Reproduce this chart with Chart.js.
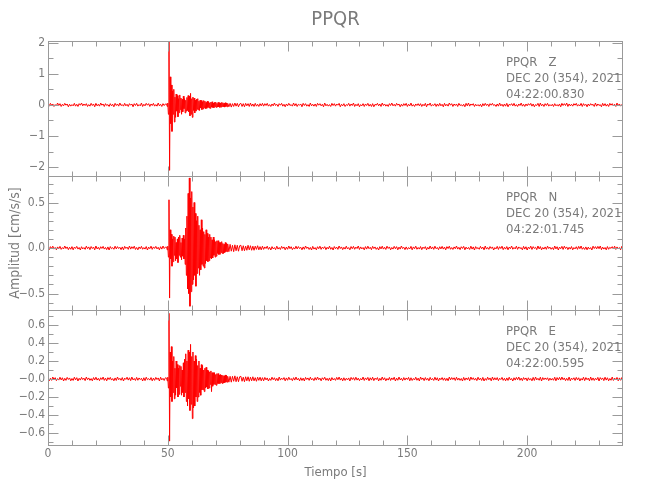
<!DOCTYPE html>
<html>
<head>
<meta charset="utf-8">
<script src="https://cdn.jsdelivr.net/npm/chart.js@4.4.1/dist/chart.umd.min.js"></script>
<style>html,body{margin:0;padding:0;background:#fff}canvas{display:block}</style>
</head>
<body>
<canvas id="c" width="650" height="500"></canvas>
<script>
// ---------------- DATA ----------------
const titulo = 'PPQR';
const componentes = ['Z', 'N', 'E'];
const fecha = 'DEC 20 (354), 2021';
const horas = ['04:22:00.830', '04:22:01.745', '04:22:00.595'];

// sample times [s]
const tPre = [
0,0.5,1,1.5,2,2.5,3,3.5,4,4.5,5,5.5,6,6.5,7,7.5,8,8.5,9,9.5,
10,10.5,11,11.5,12,12.5,13,13.5,14,14.5,15,15.5,16,16.5,17,17.5,18,18.5,19,19.5,
20,20.5,21,21.5,22,22.5,23,23.5,24,24.5,25,25.5,26,26.5,27,27.5,28,28.5,29,29.5,
30,30.5,31,31.5,32,32.5,33,33.5,34,34.5,35,35.5,36,36.5,37,37.5,38,38.5,39,39.5,
40,40.5,41,41.5,42,42.5,43,43.5,44,44.5,45,45.5,46,46.5,47,47.5,48,48.5,49];
const tEvtA = [
49.5,49.75,50,50.25,50.5,50.75,51,51.25,51.5,51.75,
52,52.25,52.5,52.75,53,53.25,53.5,53.75,54,54.25,
54.5,54.75,55,55.25,55.5,55.75,56,56.25,56.5,56.75,
57,57.25,57.5,57.75,58,58.25,58.5,58.75,59,59.25,
59.5,59.75,60,60.25,60.5,60.75,61,61.25,61.5,61.75,
62,62.25,62.5,62.75,63,63.25,63.5,63.75,64,64.25,
64.5,64.75,65,65.25,65.5,65.75,66,66.25,66.5,66.75,
67,67.25,67.5,67.75,68,68.25,68.5,68.75,69,69.25,
69.5,69.75,70,70.25,70.5,70.75,71,71.25,71.5,71.75,
72,72.25,72.5,72.75,73,73.25,73.5,73.75,74,74.25,
74.5,74.75,75];
const tEvtB = [75.5,76,76.5,77,77.5,78,78.5,79,79.5,80,80.5,81,81.5,82,82.5,83,83.5,84,84.5,85,85.5,86,86.5,87,87.5,88,88.5,89,89.5,90];
const tTail = [
90.5,91,91.5,92,92.5,93,93.5,94,94.5,95,95.5,96,96.5,97,97.5,98,98.5,99,99.5,100,
100.5,101,101.5,102,102.5,103,103.5,104,104.5,105,105.5,106,106.5,107,107.5,108,108.5,109,109.5,110,
110.5,111,111.5,112,112.5,113,113.5,114,114.5,115,115.5,116,116.5,117,117.5,118,118.5,119,119.5,120,
120.5,121,121.5,122,122.5,123,123.5,124,124.5,125,125.5,126,126.5,127,127.5,128,128.5,129,129.5,130,
130.5,131,131.5,132,132.5,133,133.5,134,134.5,135,135.5,136,136.5,137,137.5,138,138.5,139,139.5,140,
140.5,141,141.5,142,142.5,143,143.5,144,144.5,145,145.5,146,146.5,147,147.5,148,148.5,149,149.5,150,
150.5,151,151.5,152,152.5,153,153.5,154,154.5,155,155.5,156,156.5,157,157.5,158,158.5,159,159.5,160,
160.5,161,161.5,162,162.5,163,163.5,164,164.5,165,165.5,166,166.5,167,167.5,168,168.5,169,169.5,170,
170.5,171,171.5,172,172.5,173,173.5,174,174.5,175,175.5,176,176.5,177,177.5,178,178.5,179,179.5,180,
180.5,181,181.5,182,182.5,183,183.5,184,184.5,185,185.5,186,186.5,187,187.5,188,188.5,189,189.5,190,
190.5,191,191.5,192,192.5,193,193.5,194,194.5,195,195.5,196,196.5,197,197.5,198,198.5,199,199.5,200,
200.5,201,201.5,202,202.5,203,203.5,204,204.5,205,205.5,206,206.5,207,207.5,208,208.5,209,209.5,210,
210.5,211,211.5,212,212.5,213,213.5,214,214.5,215,215.5,216,216.5,217,217.5,218,218.5,219,219.5,220,
220.5,221,221.5,222,222.5,223,223.5,224,224.5,225,225.5,226,226.5,227,227.5,228,228.5,229,229.5,230,
230.5,231,231.5,232,232.5,233,233.5,234,234.5,235,235.5,236,236.5,237,237.5,238,238.5,239,239.5,240];

// Z component [cm/s/s]
const zPre = [
0.02,-0.04,0.05,-0.01,0.03,-0.05,0.01,-0.03,0.06,-0.02,
0.04,-0.05,0.02,-0.03,0.05,-0.01,0.03,-0.06,0.02,-0.04,
0.01,-0.03,0.05,-0.04,0.02,-0.05,0.04,-0.01,0.06,-0.03,
0.03,-0.02,0.04,-0.05,0.01,-0.04,0.05,-0.02,0.03,-0.06,
0.05,-0.03,0.02,-0.04,0.06,-0.01,0.03,-0.05,0.04,-0.02,
0.01,-0.05,0.04,-0.03,0.02,-0.06,0.05,-0.02,0.03,-0.04,
0.06,-0.02,0.01,-0.04,0.05,-0.03,0.02,-0.05,0.04,-0.01,
0.03,-0.06,0.04,-0.02,0.05,-0.04,0.01,-0.03,0.06,-0.05,
0.02,-0.03,0.05,-0.01,0.04,-0.05,0.03,-0.02,0.05,-0.04,
0.01,-0.04,0.06,-0.03,0.02,-0.05,0.04,-0.02,0.03];
const zEvtA = [
0.03,-0.05,0.06,-0.3,2.05,-2.1,0.9,-0.6,0.64,-0.85,
0.45,-0.3,0.5,-0.55,0.25,-0.4,0.35,-0.2,0.3,-0.38,
0.2,-0.25,0.32,-0.15,0.22,-0.3,0.18,-0.22,0.28,-0.12,
0.2,-0.26,0.15,-0.2,0.24,-0.18,0.3,-0.22,0.28,-0.35,
0.37,-0.3,0.2,-0.4,0.25,-0.18,0.22,-0.26,0.15,-0.2,
0.18,-0.14,0.2,-0.16,0.12,-0.18,0.15,-0.1,0.14,-0.15,
0.1,-0.13,0.14,-0.09,0.12,-0.12,0.08,-0.11,0.12,-0.08,
0.1,-0.1,0.07,-0.11,0.09,-0.07,0.1,-0.08,0.06,-0.09,
0.08,-0.06,0.09,-0.08,0.05,-0.07,0.08,-0.06,0.07,-0.08,
0.06,-0.07,0.08,-0.05,0.07,-0.06,0.05,-0.07,0.07,-0.05,
0.06,-0.06,0.05];
const zEvtB = [
-0.06,0.05,-0.07,0.04,-0.05,0.06,-0.04,0.05,-0.06,0.03,
0.05,-0.05,0.04,-0.06,0.05,-0.03,0.04,-0.05,0.06,-0.04,
0.03,-0.05,0.05,-0.04,0.02,-0.05,0.04,-0.03,0.05,-0.04];
const zTail = [
0.04,-0.02,0.05,-0.04,0.01,-0.05,0.03,-0.03,0.06,-0.02,
0.02,-0.05,0.04,-0.01,0.05,-0.04,0.02,-0.06,0.03,-0.03,
0.05,-0.02,0.01,-0.04,0.06,-0.03,0.04,-0.05,0.02,-0.01,
0.03,-0.06,0.05,-0.02,0.04,-0.04,0.01,-0.05,0.06,-0.03,
0.02,-0.04,0.03,-0.05,0.05,-0.01,0.04,-0.03,0.02,-0.06,
0.06,-0.03,0.02,-0.04,0.01,-0.05,0.05,-0.02,0.04,-0.04,
0.03,-0.01,0.05,-0.06,0.02,-0.03,0.04,-0.05,0.01,-0.02,
0.05,-0.04,0.03,-0.02,0.06,-0.05,0.02,-0.03,0.04,-0.06,
0.01,-0.03,0.04,-0.05,0.03,-0.02,0.05,-0.04,0.02,-0.05,
0.04,-0.06,0.02,-0.01,0.05,-0.03,0.03,-0.05,0.06,-0.02,
0.03,-0.04,0.01,-0.05,0.04,-0.02,0.06,-0.03,0.02,-0.04,
0.05,-0.01,0.03,-0.06,0.02,-0.04,0.04,-0.02,0.05,-0.05,
0.02,-0.03,0.06,-0.04,0.01,-0.05,0.03,-0.02,0.04,-0.03,
0.04,-0.05,0.02,-0.03,0.05,-0.06,0.03,-0.01,0.06,-0.04,
0.01,-0.02,0.04,-0.05,0.03,-0.04,0.05,-0.03,0.02,-0.06,
0.05,-0.03,0.02,-0.04,0.06,-0.01,0.04,-0.05,0.03,-0.02,
0.03,-0.05,0.05,-0.02,0.01,-0.04,0.02,-0.06,0.05,-0.03,
0.06,-0.04,0.03,-0.01,0.04,-0.05,0.02,-0.03,0.01,-0.04,
0.02,-0.06,0.04,-0.03,0.05,-0.02,0.03,-0.05,0.04,-0.01,
0.05,-0.02,0.01,-0.05,0.03,-0.04,0.06,-0.03,0.02,-0.05,
0.03,-0.04,0.05,-0.06,0.02,-0.01,0.04,-0.03,0.05,-0.04,
0.01,-0.05,0.03,-0.02,0.06,-0.04,0.02,-0.05,0.03,-0.03,
0.04,-0.01,0.05,-0.04,0.03,-0.06,0.01,-0.02,0.05,-0.05,
0.06,-0.03,0.02,-0.05,0.04,-0.02,0.05,-0.04,0.01,-0.03,
0.02,-0.05,0.04,-0.03,0.01,-0.04,0.03,-0.06,0.05,-0.02,
0.04,-0.02,0.06,-0.05,0.03,-0.03,0.02,-0.04,0.04,-0.01,
0.05,-0.04,0.01,-0.03,0.05,-0.05,0.04,-0.02,0.02,-0.06,
0.03,-0.03,0.04,-0.01,0.02,-0.05,0.06,-0.04,0.03,-0.02,
0.01,-0.06,0.05,-0.03,0.04,-0.04,0.02,-0.05,0.05,-0.01,
0.04,-0.03,0.02,-0.05,0.06,-0.02,0.03,-0.04,0.01,-0.05];

// N component
const nPre = [
0.01,-0.018,0.015,-0.005,0.02,-0.012,0.006,-0.02,0.012,-0.008,
0.018,-0.015,0.005,-0.01,0.022,-0.006,0.012,-0.018,0.008,-0.014,
0.015,-0.02,0.01,-0.005,0.018,-0.012,0.006,-0.022,0.014,-0.01,
0.005,-0.015,0.02,-0.008,0.012,-0.018,0.016,-0.006,0.01,-0.02,
0.022,-0.01,0.008,-0.016,0.014,-0.005,0.018,-0.012,0.006,-0.018,
0.012,-0.022,0.016,-0.008,0.005,-0.014,0.02,-0.01,0.015,-0.006,
0.008,-0.018,0.012,-0.02,0.018,-0.005,0.01,-0.015,0.022,-0.012,
0.014,-0.006,0.02,-0.016,0.006,-0.02,0.012,-0.008,0.018,-0.014,
0.005,-0.012,0.016,-0.022,0.01,-0.008,0.02,-0.015,0.012,-0.005,
0.018,-0.01,0.008,-0.02,0.014,-0.012,0.022,-0.006,0.01];
const nEvtA = [
0.01,-0.02,0.02,-0.1,0.53,-0.55,0.2,-0.12,0.15,-0.2,
0.1,-0.15,0.13,-0.08,0.12,-0.14,0.06,-0.12,0.1,-0.16,
0.12,-0.08,0.14,-0.1,0.06,-0.13,0.11,-0.09,0.14,-0.12,
0.1,-0.18,0.22,-0.3,0.35,-0.45,0.6,-0.5,0.77,-0.64,
0.55,-0.48,0.62,-0.4,0.45,-0.35,0.5,-0.3,0.38,-0.42,
0.3,-0.28,0.35,-0.22,0.25,-0.3,0.2,-0.24,0.31,-0.18,
0.22,-0.2,0.18,-0.22,0.15,-0.17,0.2,-0.14,0.16,-0.15,
0.12,-0.14,0.15,-0.11,0.12,-0.12,0.09,-0.11,0.12,-0.08,
0.09,-0.1,0.07,-0.09,0.08,-0.06,0.08,-0.07,0.06,-0.07,
0.06,-0.05,0.07,-0.06,0.05,-0.06,0.04,-0.05,0.06,-0.04,
0.05,-0.04,0.045];
const nEvtB = [
-0.04,0.04,-0.035,0.03,-0.04,0.035,-0.03,0.03,-0.035,0.025,
0.03,-0.03,0.025,-0.03,0.02,-0.025,0.03,-0.02,0.025,-0.025,
0.02,-0.025,0.02,-0.015,0.025,-0.02,0.015,-0.02,0.02,-0.015];
const nTail = [
0.012,-0.006,0.02,-0.015,0.008,-0.022,0.015,-0.01,0.005,-0.018,
0.02,-0.012,0.006,-0.016,0.018,-0.005,0.012,-0.02,0.01,-0.014,
0.022,-0.008,0.014,-0.018,0.005,-0.012,0.02,-0.01,0.016,-0.006,
0.008,-0.02,0.012,-0.014,0.022,-0.005,0.01,-0.016,0.006,-0.022,
0.018,-0.012,0.005,-0.02,0.014,-0.008,0.02,-0.015,0.01,-0.006,
0.015,-0.018,0.008,-0.01,0.02,-0.014,0.006,-0.022,0.016,-0.008,
0.01,-0.015,0.022,-0.006,0.012,-0.018,0.008,-0.012,0.02,-0.01,
0.005,-0.02,0.016,-0.008,0.018,-0.014,0.01,-0.006,0.022,-0.016,
0.012,-0.01,0.006,-0.02,0.015,-0.012,0.02,-0.008,0.008,-0.018,
0.018,-0.006,0.012,-0.015,0.005,-0.022,0.015,-0.01,0.02,-0.012,
0.008,-0.016,0.02,-0.005,0.012,-0.02,0.006,-0.012,0.018,-0.008,
0.015,-0.02,0.01,-0.012,0.022,-0.006,0.008,-0.018,0.012,-0.015,
0.005,-0.01,0.018,-0.02,0.012,-0.008,0.02,-0.014,0.006,-0.012,
0.016,-0.018,0.01,-0.006,0.015,-0.02,0.008,-0.012,0.022,-0.01,
0.012,-0.015,0.02,-0.008,0.006,-0.018,0.014,-0.01,0.018,-0.012,
0.01,-0.02,0.015,-0.006,0.02,-0.014,0.005,-0.016,0.012,-0.008,
0.022,-0.012,0.008,-0.018,0.014,-0.005,0.018,-0.02,0.01,-0.01,
0.006,-0.016,0.02,-0.012,0.012,-0.022,0.015,-0.008,0.005,-0.014,
0.018,-0.008,0.01,-0.02,0.022,-0.012,0.006,-0.015,0.016,-0.005,
0.012,-0.022,0.005,-0.01,0.018,-0.016,0.014,-0.006,0.02,-0.018,
0.008,-0.012,0.016,-0.02,0.01,-0.008,0.022,-0.014,0.006,-0.01,
0.02,-0.015,0.012,-0.006,0.005,-0.02,0.018,-0.012,0.014,-0.022,
0.01,-0.008,0.02,-0.016,0.015,-0.005,0.008,-0.018,0.022,-0.01,
0.016,-0.02,0.006,-0.012,0.012,-0.015,0.02,-0.006,0.01,-0.014,
0.005,-0.018,0.022,-0.01,0.014,-0.022,0.01,-0.008,0.018,-0.016,
0.02,-0.006,0.012,-0.018,0.008,-0.012,0.016,-0.02,0.005,-0.01,
0.014,-0.015,0.018,-0.008,0.022,-0.014,0.006,-0.016,0.012,-0.02,
0.01,-0.012,0.005,-0.022,0.02,-0.006,0.015,-0.01,0.018,-0.008,
0.022,-0.018,0.01,-0.012,0.006,-0.02,0.016,-0.014,0.008,-0.005,
0.015,-0.01,0.02,-0.016,0.012,-0.008,0.005,-0.02,0.018,-0.012];

// E component
const ePre = [
0.012,-0.02,0.008,-0.015,0.022,-0.006,0.015,-0.018,0.005,-0.012,
0.02,-0.01,0.014,-0.022,0.008,-0.015,0.018,-0.005,0.012,-0.02,
0.006,-0.016,0.02,-0.01,0.015,-0.022,0.008,-0.012,0.018,-0.006,
0.01,-0.018,0.022,-0.008,0.012,-0.015,0.005,-0.02,0.016,-0.01,
0.02,-0.012,0.008,-0.018,0.014,-0.006,0.022,-0.015,0.01,-0.02,
0.015,-0.006,0.018,-0.012,0.005,-0.02,0.012,-0.016,0.022,-0.008,
0.008,-0.014,0.016,-0.022,0.01,-0.005,0.02,-0.012,0.014,-0.018,
0.022,-0.01,0.006,-0.016,0.018,-0.014,0.012,-0.006,0.008,-0.022,
0.014,-0.018,0.02,-0.008,0.005,-0.012,0.016,-0.02,0.01,-0.015,
0.018,-0.006,0.012,-0.022,0.02,-0.01,0.008,-0.016,0.014];
const eEvtA = [
0.01,-0.02,0.02,-0.1,0.73,-0.69,0.3,-0.2,0.36,-0.25,
0.2,-0.15,0.25,-0.22,0.12,-0.18,0.2,-0.1,0.16,-0.2,
0.12,-0.17,0.15,-0.08,0.14,-0.18,0.1,-0.15,0.18,-0.2,
0.22,-0.15,0.28,-0.25,0.2,-0.3,0.32,-0.22,0.3,-0.35,
0.385,-0.28,0.25,-0.44,0.3,-0.32,0.2,-0.3,0.26,-0.2,
0.22,-0.25,0.15,-0.2,0.2,-0.15,0.12,-0.18,0.16,-0.12,
0.15,-0.12,0.1,-0.14,0.12,-0.1,0.13,-0.09,0.1,-0.11,
0.09,-0.1,0.08,-0.06,0.09,-0.14,0.07,-0.08,0.07,-0.06,
0.07,-0.06,0.05,-0.07,0.06,-0.05,0.06,-0.05,0.045,-0.05,
0.05,-0.04,0.045,-0.05,0.04,-0.045,0.035,-0.04,0.045,-0.035,
0.04,-0.035,0.03];
const eEvtB = [
-0.035,0.03,-0.035,0.03,-0.025,0.035,-0.03,0.025,-0.03,0.025,
0.03,-0.025,0.02,-0.03,0.025,-0.02,0.025,-0.025,0.02,-0.02,
0.025,-0.02,0.015,-0.025,0.02,-0.015,0.02,-0.02,0.015,-0.02];
const eTail = [
0.018,-0.01,0.012,-0.022,0.006,-0.015,0.02,-0.008,0.014,-0.018,
0.008,-0.02,0.022,-0.012,0.01,-0.006,0.016,-0.02,0.012,-0.014,
0.02,-0.008,0.006,-0.018,0.015,-0.012,0.022,-0.01,0.008,-0.02,
0.014,-0.016,0.01,-0.022,0.018,-0.006,0.012,-0.015,0.02,-0.01,
0.006,-0.018,0.016,-0.012,0.022,-0.008,0.01,-0.02,0.014,-0.006,
0.02,-0.014,0.008,-0.018,0.012,-0.022,0.016,-0.01,0.006,-0.015,
0.018,-0.008,0.022,-0.012,0.01,-0.02,0.014,-0.016,0.008,-0.01,
0.012,-0.022,0.018,-0.006,0.015,-0.014,0.02,-0.012,0.01,-0.018,
0.006,-0.01,0.022,-0.016,0.012,-0.008,0.018,-0.02,0.014,-0.012,
0.02,-0.018,0.01,-0.006,0.016,-0.022,0.008,-0.014,0.022,-0.01,
0.014,-0.02,0.006,-0.012,0.018,-0.016,0.012,-0.008,0.02,-0.022,
0.01,-0.014,0.022,-0.01,0.008,-0.018,0.016,-0.012,0.012,-0.006,
0.018,-0.02,0.014,-0.016,0.006,-0.01,0.02,-0.014,0.01,-0.022,
0.022,-0.006,0.012,-0.018,0.016,-0.012,0.008,-0.02,0.018,-0.01,
0.006,-0.016,0.02,-0.012,0.014,-0.022,0.01,-0.008,0.016,-0.014,
0.012,-0.018,0.008,-0.02,0.022,-0.01,0.016,-0.006,0.014,-0.016,
0.02,-0.012,0.01,-0.015,0.006,-0.022,0.018,-0.014,0.012,-0.008,
0.016,-0.02,0.022,-0.006,0.014,-0.012,0.008,-0.018,0.02,-0.01,
0.01,-0.016,0.018,-0.022,0.006,-0.014,0.02,-0.008,0.012,-0.02,
0.022,-0.012,0.014,-0.01,0.016,-0.018,0.008,-0.006,0.018,-0.015,
0.008,-0.02,0.012,-0.016,0.02,-0.01,0.006,-0.022,0.014,-0.012,
0.018,-0.008,0.022,-0.014,0.01,-0.018,0.016,-0.006,0.012,-0.02,
0.014,-0.012,0.006,-0.02,0.018,-0.016,0.022,-0.01,0.008,-0.014,
0.02,-0.022,0.016,-0.008,0.012,-0.006,0.014,-0.018,0.01,-0.012,
0.006,-0.014,0.02,-0.02,0.016,-0.01,0.018,-0.012,0.022,-0.008,
0.012,-0.018,0.008,-0.016,0.022,-0.02,0.01,-0.006,0.014,-0.016,
0.018,-0.01,0.014,-0.022,0.006,-0.012,0.02,-0.018,0.016,-0.008,
0.01,-0.02,0.022,-0.014,0.012,-0.016,0.008,-0.01,0.018,-0.022,
0.016,-0.006,0.012,-0.018,0.02,-0.012,0.014,-0.02,0.006,-0.014,
0.022,-0.016,0.01,-0.008,0.018,-0.02,0.012,-0.014,0.016,-0.01];

// axis ranges and ticks
const xRange = [0, 240];
const xMajor = [0, 50, 100, 150, 200];
const xLabels = ['0', '50', '100', '150', '200'];
const xMinor = [10,20,30,40,60,70,80,90,110,120,130,140,160,170,180,190,210,220,230];

const yRangeZ = [-2.27, 2.05];
const yMajorZ = [-2, -1, 0, 1, 2];
const yLabelsZ = ['\u22122', '\u22121', '0', '1', '2'];
const yMinorZ = [-1.5, -0.5, 0.5, 1.5];

const yRangeN = [-0.685, 0.795];
const yMajorN = [-0.5, 0, 0.5];
const yLabelsN = ['\u22120.5', '0.0', '0.5'];
const yMinorN = [-0.6, -0.4, -0.3, -0.2, -0.1, 0.1, 0.2, 0.3, 0.4, 0.6, 0.7];

const yRangeE = [-0.733, 0.763];
const yMajorE = [-0.6, -0.4, -0.2, 0, 0.2, 0.4, 0.6];
const yLabelsE = ['\u22120.6', '\u22120.4', '\u22120.2', '\u22120.0', '0.2', '0.4', '0.6'];
const yMinorE = [-0.7, -0.5, -0.3, -0.1, 0.1, 0.3, 0.5, 0.7];

// ---------------- DRAWING ----------------
const FONT = "'Liberation Sans Narrow','DejaVu Sans Condensed','Liberation Sans',sans-serif";
const AXIS_COLOR = '#9a9a9a';
const TEXT_COLOR = '#7a7a7a';
const TRACE_COLOR = '#ff0000';

const tiempo = [...tPre, ...tEvtA, ...tEvtB, ...tTail];
const panels = [
  {id: 'yZ', values: [...zPre, ...zEvtA, ...zEvtB, ...zTail], range: yRangeZ, major: yMajorZ, labels: yLabelsZ, minor: yMinorZ, comp: componentes[0], hora: horas[0], weight: 3},
  {id: 'yN', values: [...nPre, ...nEvtA, ...nEvtB, ...nTail], range: yRangeN, major: yMajorN, labels: yLabelsN, minor: yMinorN, comp: componentes[1], hora: horas[1], weight: 2},
  {id: 'yE', values: [...ePre, ...eEvtA, ...eEvtB, ...eTail], range: yRangeE, major: yMajorE, labels: yLabelsE, minor: yMinorE, comp: componentes[2], hora: horas[2], weight: 1}
];
panels.forEach(p => { if (p.values.length !== tiempo.length) console.error('length mismatch', p.id, p.values.length, tiempo.length); });

const scales = {
  x: {
    type: 'linear', position: 'bottom', min: xRange[0], max: xRange[1],
    grid: {display: false, drawTicks: false, tickLength: 0},
    border: {display: false},
    afterBuildTicks: s => { s.ticks = xMajor.map(v => ({value: v})); },
    ticks: {font: {family: FONT, size: 12}, color: TEXT_COLOR, padding: 2, autoSkip: false, maxRotation: 0,
            callback: (v, i) => xLabels[i]},
    title: {display: true, text: 'Tiempo [s]', font: {family: FONT, size: 13}, color: TEXT_COLOR, padding: {top: 0, bottom: 20}},
    afterFit: s => { s.height = 55; }
  }
};
panels.forEach((p, k) => {
  scales[p.id] = {
    type: 'linear', position: 'left', stack: 'paneles', stackWeight: 1, weight: p.weight,
    min: p.range[0], max: p.range[1],
    grid: {display: false, drawTicks: false, tickLength: 0},
    border: {display: false},
    afterBuildTicks: s => { s.ticks = p.major.map(v => ({value: v})); },
    ticks: {font: {family: FONT, size: 12}, color: TEXT_COLOR, padding: 3, autoSkip: false,
            callback: (v, i) => p.labels[i]},
    title: {display: k === 1, text: 'Amplitud [cm/s/s]', font: {family: FONT, size: 14}, color: TEXT_COLOR, padding: {top: 7, bottom: 0}},
    afterFit: s => { s.width = 48; }
  };
});

const framePlugin = {
  id: 'frame',
  afterDatasetsDraw(chart) {
    const {ctx, chartArea: ca} = chart;
    const xs = chart.scales.x;
    const L = Math.round(ca.left) + 0.5, R = Math.round(ca.right) - 0.5;
    const seg = (x1, y1, x2, y2) => { ctx.beginPath(); ctx.moveTo(x1, y1); ctx.lineTo(x2, y2); ctx.stroke(); };
    ctx.save();
    ctx.strokeStyle = AXIS_COLOR;
    ctx.lineWidth = 1;
    panels.forEach(p => {
      const ys = chart.scales[p.id];
      const T = Math.round(ys.top) + 0.5, B = Math.round(ys.bottom) + 0.5;
      ctx.strokeRect(L, T, R - L, B - T);
      xMajor.forEach(v => { const px = Math.round(xs.getPixelForValue(v)) + 0.5; seg(px, T, px, T + 10); seg(px, B, px, B - 10); });
      xMinor.forEach(v => { const px = Math.round(xs.getPixelForValue(v)) + 0.5; seg(px, T, px, T + 5); seg(px, B, px, B - 5); });
      p.major.forEach(v => { const py = Math.round(ys.getPixelForValue(v)) + 0.5; seg(L, py, L + 10, py); seg(R, py, R - 10, py); });
      p.minor.forEach(v => { const py = Math.round(ys.getPixelForValue(v)) + 0.5; seg(L, py, L + 5, py); seg(R, py, R - 5, py); });
      // station info
      ctx.fillStyle = TEXT_COLOR;
      ctx.font = '13px ' + FONT;
      ctx.textAlign = 'left';
      ctx.textBaseline = 'middle';
      const lines = [titulo + '   ' + p.comp, fecha, p.hora];
      lines.forEach((t, i) => ctx.fillText(t, ca.right - 117, T + 21 + i * 16));
    });
    // main title
    ctx.fillStyle = TEXT_COLOR;
    ctx.font = '20px ' + FONT;
    ctx.textAlign = 'center';
    ctx.textBaseline = 'middle';
    ctx.fillText(titulo, (ca.left + ca.right) / 2, 20);
    ctx.restore();
  }
};

new Chart(document.getElementById('c'), {
  type: 'line',
  data: {
    datasets: panels.map(p => ({
      data: tiempo.map((t, i) => ({x: t, y: p.values[i]})),
      yAxisID: p.id,
      borderColor: TRACE_COLOR,
      borderWidth: 1,
      pointRadius: 0,
      tension: 0,
      fill: false
    }))
  },
  options: {
    responsive: false,
    animation: false,
    devicePixelRatio: 1,
    parsing: false,
    normalized: true,
    events: [],
    layout: {padding: {top: 41, right: 27, left: 0, bottom: 0}},
    plugins: {legend: {display: false}, tooltip: {enabled: false}, title: {display: false}},
    scales: scales
  },
  plugins: [framePlugin]
});
</script>
</body>
</html>
